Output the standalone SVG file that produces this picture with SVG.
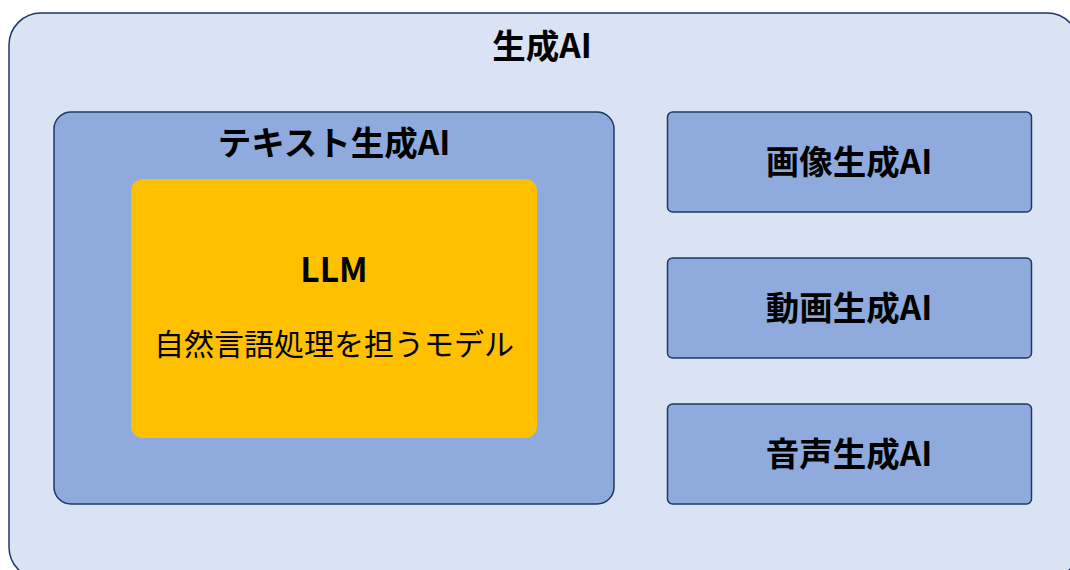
<svg xmlns="http://www.w3.org/2000/svg" width="1070" height="570" viewBox="0 0 1070 570">
<style>
.t{font-family:"Noto Sans CJK JP","Noto Sans",sans-serif;fill:#000;text-anchor:middle;dominant-baseline:central}
.b{font-weight:bold;font-size:33.5px}
.n{font-size:30px}
.box{fill:#8FAADC;stroke:#1F3864;stroke-width:1.5}
</style>
<rect width="1070" height="570" fill="#fff"/>
<g id="gen-ai">
<rect x="9" y="13" width="1070" height="566" rx="32" fill="#DAE3F3" stroke="#1F3864" stroke-width="1.5"/>
<text class="t b" x="542" y="43">生成AI</text>
</g>
<g id="text-ai">
<rect class="box" x="54" y="112" width="560" height="392" rx="17"/>
<text class="t b" x="334" y="140">テキスト生成AI</text>
</g>
<g id="llm">
<rect x="131" y="179" width="406" height="259" rx="12" fill="#FFC000"/>
<text class="t b" x="334" y="267" font-size="35">LLM</text>
<text class="t n" x="334" y="342">自然言語処理を担うモデル</text>
</g>
<g id="image-ai">
<rect class="box" x="667.5" y="112" width="364" height="100" rx="5"/>
<text class="t b" x="849" y="159">画像生成AI</text>
</g>
<g id="video-ai">
<rect class="box" x="667.5" y="258" width="364" height="100" rx="5"/>
<text class="t b" x="849" y="305">動画生成AI</text>
</g>
<g id="audio-ai">
<rect class="box" x="667.5" y="404" width="364" height="100" rx="5"/>
<text class="t b" x="849" y="451">音声生成AI</text>
</g>
<g id="connectors"></g>
</svg>
